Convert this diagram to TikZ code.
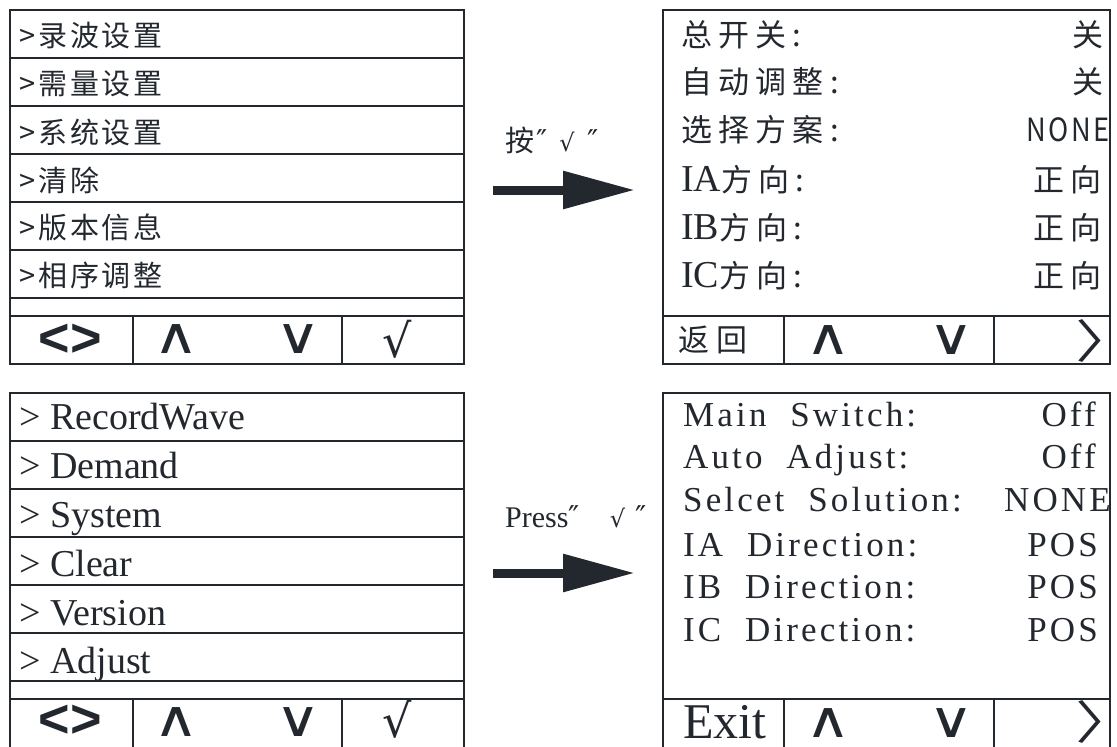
\documentclass[tikz,border=0pt]{standalone}
\usepackage{fontspec}
\setmainfont{Liberation Serif}
\newfontfamily\zhfont{Noto Sans CJK SC}[LetterSpace=10]
\newfontfamily\zhwide{Noto Sans CJK SC}[LetterSpace=20]
\newfontfamily\serwide{Liberation Serif}[LetterSpace=9]
\newfontfamily\symfont{DejaVu Sans}
\newfontfamily\keyfont{Liberation Sans}
\usetikzlibrary{arrows.meta}
\definecolor{ink}{HTML}{23272E}
\newcommand{\fsz}[1]{\fontsize{#1}{#1}\selectfont}
\newcommand{\upkey}{{\symfont\fsz{50}\smash{\scalebox{1.25}[1]{∧}}}}
\newcommand{\downkey}{{\symfont\fsz{50}\smash{\scalebox{1.25}[1]{∨}}}}
\newcommand{\okkey}{{\symfont\fsz{46}\smash{√}}}
\newcommand{\nextkey}{{\zhfont\fsz{46}\smash{\scalebox{1.35}[1]{〉}}\hspace{-45pt}}}
\tikzset{
  panel/.style={draw=ink, line width=1.4pt},
  menutxt/.style={anchor=west, inner sep=0pt, text=ink},
  basetxt/.style={anchor=base west, inner sep=0pt, text=ink},
  valtxt/.style={anchor=base east, inner sep=0pt, text=ink},
  keytxt/.style={inner sep=0pt, text=ink},
  keybase/.style={anchor=base, inner sep=0pt, text=ink},
  bigarrow/.style={draw=ink, line width=9pt, -{Triangle[length=72pt,width=36pt]}},
}
\begin{document}
\begin{tikzpicture}[x=1pt,y=-1pt]
    \useasboundingbox (0,0) rectangle (1117,747);

    % Panel frames (Chinese menu, Chinese settings, English menu, English settings)
    \draw[panel] (10,10) rectangle (464,364);
    \draw[panel] (663,10) rectangle (1110,364);
    \draw[panel] (10,393) rectangle (464,748);
    \draw[panel] (663,393) rectangle (1110,748);

    % Row rules of the two menus
    \foreach \y in {58,106,154,202,250,298,316} {
        \draw[panel] (10,\y) -- (464,\y);
        \draw[panel] (10,\y+383) -- (464,\y+383);
    }
    % Key bars
    \draw[panel] (663,316) -- (1110,316);
    \draw[panel] (663,699) -- (1110,699);
    \draw[panel] (133,316) -- (133,364) (342,316) -- (342,364);
    \draw[panel] (133,699) -- (133,748) (342,699) -- (342,748);
    \draw[panel] (784,316) -- (784,364) (994,316) -- (994,364);
    \draw[panel] (784,699) -- (784,748) (994,699) -- (994,748);

    % Chinese menu
    \node (zhm1) [menutxt] at (19,36)  {\zhfont\fsz{29}>录波设置};
    \node (zhm2) [menutxt] at (19,84)  {\zhfont\fsz{29}>需量设置};
    \node (zhm3) [menutxt] at (19,132) {\zhfont\fsz{29}>系统设置};
    \node (zhm4) [menutxt] at (19,180) {\zhfont\fsz{29}>清除};
    \node (zhm5) [menutxt] at (19,227) {\zhfont\fsz{29}>版本信息};
    \node (zhm6) [menutxt] at (19,275) {\zhfont\fsz{29}>相序调整};

    % English menu
    \node (enm1) [basetxt] at (19,429) {\fsz{38}> RecordWave};
    \node (enm2) [basetxt] at (19,478) {\fsz{38}> Demand};
    \node (enm3) [basetxt] at (19,527) {\fsz{38}> System};
    \node (enm4) [basetxt] at (19,576) {\fsz{38}> Clear};
    \node (enm5) [basetxt] at (19,625) {\fsz{38}> Version};
    \node (enm6) [basetxt] at (19,673) {\fsz{38}> Adjust};

    % Chinese settings
    \node (zhs1) [basetxt] at (681,46)  {\zhwide\fsz{31}总开关:};
    \node (zhs2) [basetxt] at (681,93)  {\zhwide\fsz{31}自动调整:};
    \node (zhs3) [basetxt] at (681,141) {\zhwide\fsz{31}选择方案:};
    \node (zhs4) [basetxt] at (681,191) {\fsz{38}IA{\zhwide\fsz{31}方向:}};
    \node (zhs5) [basetxt] at (681,239) {\fsz{38}IB{\zhwide\fsz{31}方向:}};
    \node (zhs6) [basetxt] at (681,287) {\fsz{38}IC{\zhwide\fsz{31}方向:}};
    \node (zhv1) [valtxt] at (1104,46)  {\zhfont\fsz{31}关};
    \node (zhv2) [valtxt] at (1104,93)  {\zhfont\fsz{31}关};
    \node (zhv3) [valtxt] at (1110,141) {\zhfont\fsz{32}\scalebox{0.85}[1]{NONE}};
    \node (zhv4) [valtxt] at (1102,191) {\zhwide\fsz{31}正向};
    \node (zhv5) [valtxt] at (1102,239) {\zhwide\fsz{31}正向};
    \node (zhv6) [valtxt] at (1102,287) {\zhwide\fsz{31}正向};

    % English settings
    \node (ens1) [basetxt] at (683,426) {\serwide\fsz{35}Main~ Switch:};
    \node (ens2) [basetxt] at (683,468) {\serwide\fsz{35}Auto~ Adjust:};
    \node (ens3) [basetxt] at (683,511) {\serwide\fsz{35}Selcet~ Solution:};
    \node (ens4) [basetxt] at (683,556) {\serwide\fsz{35}IA~ Direction:};
    \node (ens5) [basetxt] at (683,598) {\serwide\fsz{35}IB~ Direction:};
    \node (ens6) [basetxt] at (683,641) {\serwide\fsz{35}IC~ Direction:};
    \node (env1) [valtxt] at (1096,426) {\serwide\fsz{35}Off};
    \node (env2) [valtxt] at (1096,468) {\serwide\fsz{35}Off};
    \node (env3) [valtxt] at (1111,511) {\serwide\fsz{35}NONE};
    \node (env4) [valtxt] at (1098,556) {\serwide\fsz{35}POS};
    \node (env5) [valtxt] at (1098,598) {\serwide\fsz{35}POS};
    \node (env6) [valtxt] at (1098,641) {\serwide\fsz{35}POS};

    % Key labels
    \node (zhk1) [keytxt] at (70,340)  {\keyfont\bfseries\fsz{54}<>};
    \node (zhk2) [keybase] at (176,353) {\upkey};
    \node (zhk3) [keybase] at (298,353) {\downkey};
    \node (zhk4) [keybase] at (397,357) {\okkey};
    \node (enk1) [keytxt] at (70,721)  {\keyfont\bfseries\fsz{54}<>};
    \node (enk2) [keybase] at (176,736) {\upkey};
    \node (enk3) [keybase] at (298,736) {\downkey};
    \node (enk4) [keybase] at (397,737) {\okkey};
    \node (zhb1) [keytxt] at (713,340) {\zhwide\fsz{31}返回};
    \node (zhb2) [keybase] at (828,354) {\upkey};
    \node (zhb3) [keybase] at (951,354) {\downkey};
    \node (zhb4) [basetxt] at (1075,358) {\nextkey};
    \node (enb1) [basetxt] at (683,738) {\fsz{50}Exit};
    \node (enb2) [keybase] at (828,737) {\upkey};
    \node (enb3) [keybase] at (951,737) {\downkey};
    \node (enb4) [basetxt] at (1075,739) {\nextkey};

    % Press arrows with their labels
    \coordinate (arrA0) at (493,190);
    \coordinate (arrA1) at (635,190);
    \coordinate (arrB0) at (493,573);
    \coordinate (arrB1) at (635,573);
    \draw[bigarrow] (arrA0) -- (arrA1);
    \draw[bigarrow] (arrB0) -- (arrB1);
    \node (pressA) [basetxt] at (505,151) {\zhfont\fsz{29}按\hspace{2pt}{\symfont\fsz{30}″\hspace{12pt}{\fsz{24}√}\hspace{13pt}″}};
    \node (pressB) [basetxt] at (505,527) {\fsz{30}Press{\symfont\fsz{30}″\hspace{30pt}{\fsz{24}√}\hspace{10pt}″}};
\end{tikzpicture}
\end{document}
